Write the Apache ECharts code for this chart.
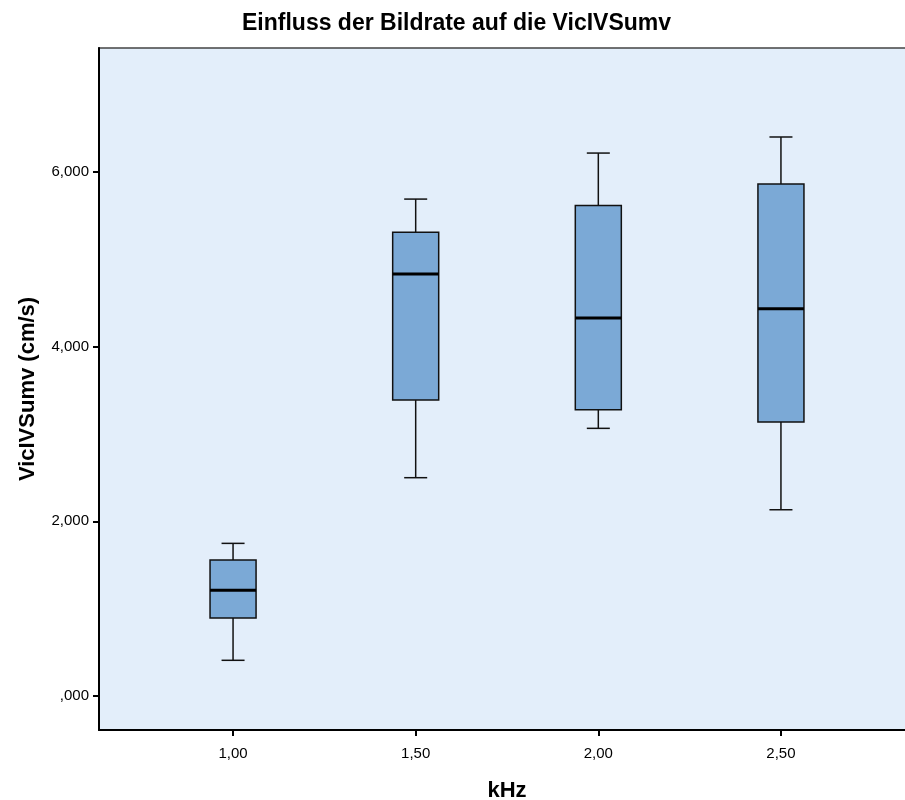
<!DOCTYPE html>
<html>
<head>
<meta charset="utf-8">
<script src="https://cdn.jsdelivr.net/npm/echarts@6/dist/echarts.min.js"></script>
<style>
  html, body { margin: 0; padding: 0; background: #fff; }
  #main { width: 905px; height: 800px; }
</style>
</head>
<body>
<div id="main"></div>
<script>
// Bildrate (kHz) und Boxplot-Kennwerte der VicIVSumv
var kHz = [1.0, 1.5, 2.0, 2.5];
var xTickLabels = ['1,00', '1,50', '2,00', '2,50'];
var whiskerLow = [0.409, 2.500, 3.065, 2.133];
var q1 = [0.893, 3.389, 3.279, 3.137];
var median = [1.210, 4.832, 4.328, 4.435];
var q3 = [1.557, 5.309, 5.618, 5.863];
var whiskerHigh = [1.748, 5.690, 6.217, 6.401];
var yTicks = [0, 2, 4, 6];
var yTickLabels = [',000', '2,000', '4,000', '6,000'];

var BOX_W = 0.126;   // Boxbreite in kHz-Einheiten
var CAP_W = 0.063;   // Breite der Whisker-Enden

var boxData = kHz.map(function (k, i) {
  return [k, whiskerLow[i], q1[i], median[i], q3[i], whiskerHigh[i]];
});

var chart = echarts.init(document.getElementById('main'));
var option = {
  animation: false,
  title: {
    text: 'Einfluss der Bildrate auf die VicIVSumv',
    left: 237,
    top: 7,
    textStyle: { fontFamily: 'Liberation Sans', fontSize: 23, fontWeight: 'bold', color: '#000' }
  },
  grid: {
    left: 99, top: 48, width: 816, height: 682,
    outerBoundsMode: 'none',
    show: true,
    backgroundColor: '#e3eefa',
    borderColor: '#444',
    borderWidth: 1.5
  },
  xAxis: {
    type: 'value',
    min: 0.633, max: 2.867,
    name: 'kHz',
    nameLocation: 'middle',
    nameGap: 50,
    nameTextStyle: { fontFamily: 'Liberation Sans', fontSize: 22, fontWeight: 'bold', color: '#000' },
    axisLine: { show: true, onZero: false, lineStyle: { color: '#000', width: 2 } },
    axisTick: { show: true, customValues: kHz, length: 6, lineStyle: { color: '#000', width: 2 } },
    axisLabel: {
      customValues: kHz,
      margin: 16,
      fontFamily: 'Liberation Sans', fontSize: 15, color: '#000',
      formatter: function (v) { return xTickLabels[kHz.indexOf(v)]; }
    },
    splitLine: { show: false }
  },
  yAxis: {
    type: 'value',
    min: -0.389, max: 7.42,
    name: 'VicIVSumv (cm/s)',
    nameLocation: 'middle',
    nameGap: 60,
    nameTextStyle: { fontFamily: 'Liberation Sans', fontSize: 22, fontWeight: 'bold', color: '#000' },
    axisLine: { show: true, onZero: false, lineStyle: { color: '#000', width: 2 } },
    axisTick: { show: true, customValues: yTicks, length: 6, lineStyle: { color: '#000', width: 2 } },
    axisLabel: {
      customValues: yTicks,
      margin: 10,
      fontFamily: 'Liberation Sans', fontSize: 15, color: '#000',
      formatter: function (v) { return yTickLabels[yTicks.indexOf(v)]; }
    },
    splitLine: { show: false }
  },
  series: [{
    type: 'custom',
    data: boxData,
    encode: { x: 0, y: [1, 2, 3, 4, 5] },
    renderItem: function (params, api) {
      var x = api.value(0);
      var lo = api.coord([x, api.value(1)]);
      var b1 = api.coord([x, api.value(2)]);
      var md = api.coord([x, api.value(3)]);
      var b3 = api.coord([x, api.value(4)]);
      var hi = api.coord([x, api.value(5)]);
      var bw = api.size([BOX_W, 0])[0];
      var cw = api.size([CAP_W, 0])[0];
      var cx = lo[0];
      var line = { stroke: '#111', lineWidth: 1.5 };
      return {
        type: 'group',
        children: [
          { type: 'line', shape: { x1: cx, y1: lo[1], x2: cx, y2: b1[1] }, style: line },
          { type: 'line', shape: { x1: cx, y1: b3[1], x2: cx, y2: hi[1] }, style: line },
          { type: 'line', shape: { x1: cx - cw / 2, y1: lo[1], x2: cx + cw / 2, y2: lo[1] }, style: line },
          { type: 'line', shape: { x1: cx - cw / 2, y1: hi[1], x2: cx + cw / 2, y2: hi[1] }, style: line },
          {
            type: 'rect',
            shape: { x: cx - bw / 2, y: b3[1], width: bw, height: b1[1] - b3[1] },
            style: { fill: '#7ba9d6', stroke: '#111', lineWidth: 1.5 }
          },
          { type: 'line', shape: { x1: cx - bw / 2, y1: md[1], x2: cx + bw / 2, y2: md[1] }, style: { stroke: '#000', lineWidth: 3 } }
        ]
      };
    }
  }]
};
chart.setOption(option);
</script>
</body>
</html>
